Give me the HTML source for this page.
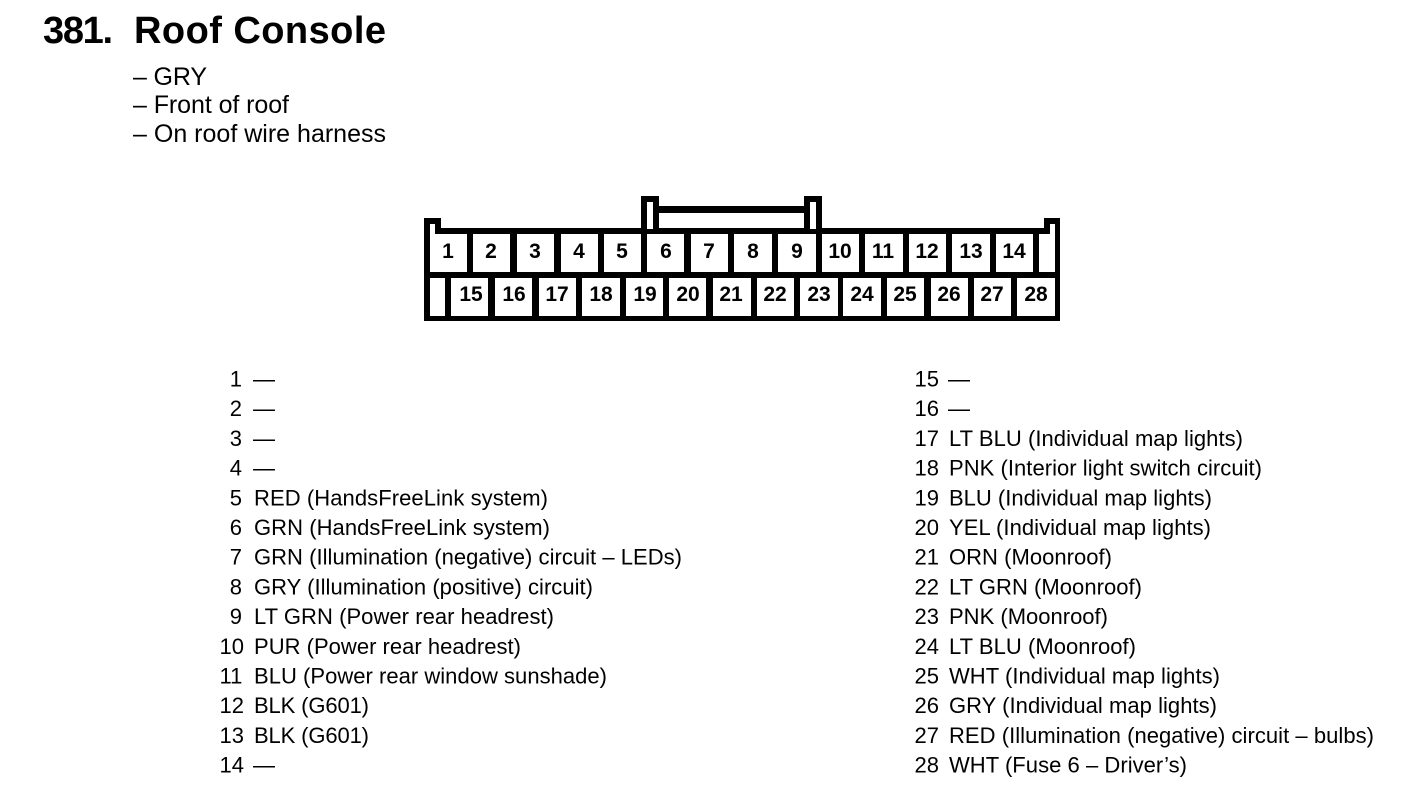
<!DOCTYPE html>
<html><head><meta charset="utf-8"><style>
html,body{margin:0;padding:0;background:#fff;width:1408px;height:810px;overflow:hidden}
svg{display:block}
text{font-family:"Liberation Sans",sans-serif;fill:#000}
.h{font-size:38px;font-weight:700}
.s{font-size:25px}
.l{font-size:22px}
.n{font-size:22px;text-anchor:end}
.d{font-size:22px}
.c{font-size:21px;font-weight:700;text-anchor:middle}
.w{fill:#fff}
</style></head><body>
<svg width="1408" height="810" viewBox="0 0 1408 810" xmlns="http://www.w3.org/2000/svg">
<text class="h" x="43" y="43" textLength="70">381.</text>
<text class="h" x="134" y="43" textLength="252">Roof Console</text>
<text class="s" x="133" y="85" textLength="74">– GRY</text>
<text class="s" x="133" y="113" textLength="156">– Front of roof</text>
<text class="s" x="133" y="142" textLength="253">– On roof wire harness</text>

<g shape-rendering="crispEdges">
<rect x="424" y="228" width="636" height="93"/>
<rect x="424" y="218" width="17" height="12"/>
<rect x="1044" y="218" width="16" height="12"/>
<rect x="641" y="196" width="18" height="34"/>
<rect x="804" y="196" width="18" height="34"/>
<rect x="659" y="206" width="145" height="7"/>
<rect class="w" x="647" y="202" width="6" height="27"/>
<rect class="w" x="810" y="202" width="6" height="27"/>
<rect class="w" x="430" y="224" width="5" height="11"/>
<rect class="w" x="1050" y="224" width="5" height="11"/>
<!-- top row -->
<rect class="w" x="430" y="234" width="37" height="38"/>
<rect class="w" x="473" y="234" width="37" height="38"/>
<rect class="w" x="517" y="234" width="37" height="38"/>
<rect class="w" x="561" y="234" width="37" height="38"/>
<rect class="w" x="604" y="234" width="37" height="38"/>
<rect class="w" x="647" y="234" width="37" height="38"/>
<rect class="w" x="691" y="234" width="37" height="38"/>
<rect class="w" x="734" y="234" width="38" height="38"/>
<rect class="w" x="778" y="234" width="38" height="38"/>
<rect class="w" x="822" y="234" width="37" height="38"/>
<rect class="w" x="865" y="234" width="38" height="38"/>
<rect class="w" x="909" y="234" width="37" height="38"/>
<rect class="w" x="952" y="234" width="38" height="38"/>
<rect class="w" x="996" y="234" width="37" height="38"/>
<rect class="w" x="1039" y="234" width="16" height="38"/>
<!-- bottom row -->
<rect class="w" x="430" y="278" width="15" height="38"/>
<rect class="w" x="451" y="278" width="37" height="38"/>
<rect class="w" x="495" y="278" width="37" height="38"/>
<rect class="w" x="539" y="278" width="37" height="38"/>
<rect class="w" x="582" y="278" width="38" height="38"/>
<rect class="w" x="626" y="278" width="37" height="38"/>
<rect class="w" x="669" y="278" width="37" height="38"/>
<rect class="w" x="713" y="278" width="38" height="38"/>
<rect class="w" x="757" y="278" width="37" height="38"/>
<rect class="w" x="800" y="278" width="38" height="38"/>
<rect class="w" x="843" y="278" width="38" height="38"/>
<rect class="w" x="887" y="278" width="37" height="38"/>
<rect class="w" x="931" y="278" width="37" height="38"/>
<rect class="w" x="974" y="278" width="37" height="38"/>
<rect class="w" x="1017" y="278" width="38" height="38"/>
</g>

<g class="cells">
<text class="c" x="448" y="258">1</text><text class="c" x="491" y="258">2</text><text class="c" x="535" y="258">3</text><text class="c" x="579" y="258">4</text><text class="c" x="622" y="258">5</text><text class="c" x="666" y="258">6</text><text class="c" x="709" y="258">7</text><text class="c" x="753" y="258">8</text><text class="c" x="797" y="258">9</text><text class="c" x="840" y="258">10</text><text class="c" x="883" y="258">11</text><text class="c" x="927" y="258">12</text><text class="c" x="971" y="258">13</text><text class="c" x="1014" y="258">14</text>
<text class="c" x="471" y="301">15</text><text class="c" x="514" y="301">16</text><text class="c" x="557" y="301">17</text><text class="c" x="601" y="301">18</text><text class="c" x="645" y="301">19</text><text class="c" x="688" y="301">20</text><text class="c" x="731" y="301">21</text><text class="c" x="775" y="301">22</text><text class="c" x="819" y="301">23</text><text class="c" x="862" y="301">24</text><text class="c" x="905" y="301">25</text><text class="c" x="949" y="301">26</text><text class="c" x="992" y="301">27</text><text class="c" x="1036" y="301">28</text>
</g>

<text class="n" x="242" y="386.5">1</text><text class="l" x="253" y="386.5">—</text>
<text class="n" x="242" y="416.2">2</text><text class="l" x="253" y="416.2">—</text>
<text class="n" x="242" y="445.9">3</text><text class="l" x="253" y="445.9">—</text>
<text class="n" x="242" y="475.6">4</text><text class="l" x="253" y="475.6">—</text>
<text class="n" x="242" y="505.3">5</text><text class="l" x="254" y="505.3" textLength="294">RED (HandsFreeLink system)</text>
<text class="n" x="242" y="535">6</text><text class="l" x="254" y="535" textLength="296">GRN (HandsFreeLink system)</text>
<text class="n" x="242" y="564.7">7</text><text class="l" x="254" y="564.7" textLength="428">GRN (Illumination (negative) circuit – LEDs)</text>
<text class="n" x="242" y="594.4">8</text><text class="l" x="254" y="594.4" textLength="339">GRY (Illumination (positive) circuit)</text>
<text class="n" x="242" y="624.1">9</text><text class="l" x="254" y="624.1" textLength="300">LT GRN (Power rear headrest)</text>
<text class="d" x="219.5" y="653.8">10</text><text class="l" x="254" y="653.8" textLength="267">PUR (Power rear headrest)</text>
<text class="d" x="219.5" y="683.5">11</text><text class="l" x="254" y="683.5" textLength="353">BLU (Power rear window sunshade)</text>
<text class="d" x="219.5" y="713.2">12</text><text class="l" x="254" y="713.2" textLength="115">BLK (G601)</text>
<text class="d" x="219.5" y="742.9">13</text><text class="l" x="254" y="742.9" textLength="115">BLK (G601)</text>
<text class="d" x="219.5" y="772.6">14</text><text class="l" x="253" y="772.6">—</text>

<text class="n" x="939" y="386.5">15</text><text class="l" x="948" y="386.5">—</text>
<text class="n" x="939" y="416.2">16</text><text class="l" x="948" y="416.2">—</text>
<text class="n" x="939" y="445.9">17</text><text class="l" x="949" y="445.9" textLength="294">LT BLU (Individual map lights)</text>
<text class="n" x="939" y="475.6">18</text><text class="l" x="949" y="475.6" textLength="313">PNK (Interior light switch circuit)</text>
<text class="n" x="939" y="505.3">19</text><text class="l" x="949" y="505.3" textLength="263">BLU (Individual map lights)</text>
<text class="n" x="939" y="535">20</text><text class="l" x="949" y="535" textLength="262">YEL (Individual map lights)</text>
<text class="n" x="939" y="564.7">21</text><text class="l" x="949" y="564.7" textLength="163">ORN (Moonroof)</text>
<text class="n" x="939" y="594.4">22</text><text class="l" x="949" y="594.4" textLength="193">LT GRN (Moonroof)</text>
<text class="n" x="939" y="624.1">23</text><text class="l" x="949" y="624.1" textLength="159">PNK (Moonroof)</text>
<text class="n" x="939" y="653.8">24</text><text class="l" x="949" y="653.8" textLength="187">LT BLU (Moonroof)</text>
<text class="n" x="939" y="683.5">25</text><text class="l" x="949" y="683.5" textLength="271">WHT (Individual map lights)</text>
<text class="n" x="939" y="713.2">26</text><text class="l" x="949" y="713.2" textLength="268">GRY (Individual map lights)</text>
<text class="n" x="939" y="742.9">27</text><text class="l" x="949" y="742.9" textLength="425">RED (Illumination (negative) circuit – bulbs)</text>
<text class="n" x="939" y="772.6">28</text><text class="l" x="949" y="772.6" textLength="238">WHT (Fuse 6 – Driver’s)</text>
</svg>
</body></html>
